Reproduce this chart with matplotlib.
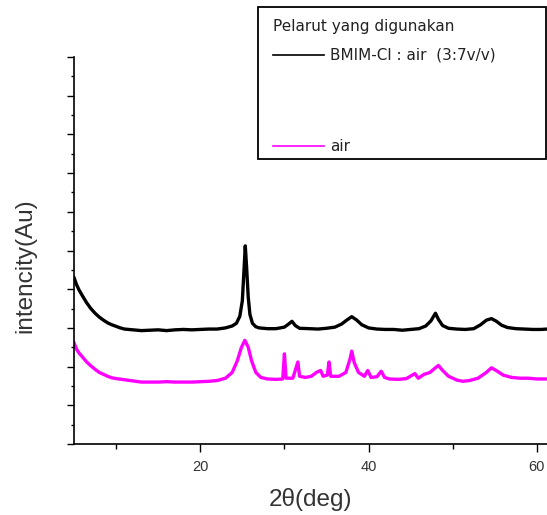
import matplotlib
matplotlib.use("Agg")
import matplotlib.pyplot as plt
from matplotlib.lines import Line2D
from matplotlib.patches import Rectangle
from matplotlib.ticker import MultipleLocator

plt.rcParams['font.family'] = ['Liberation Sans', 'DejaVu Sans']

# ---- data ----
bmim_x = [5.0, 5.3, 5.6, 6.0, 6.5, 7.0, 7.5, 8.0, 8.5, 9.0, 9.5, 10.0, 10.5, 11.0, 12.0, 13.0,
          14.0, 15.0, 16.0, 17.0, 18.0, 19.0, 20.0, 21.0, 22.0, 23.0, 23.8, 24.3, 24.7, 25.0,
          25.2, 25.35, 25.5, 25.7, 25.9, 26.2, 26.6, 27.0, 28.0, 29.0, 30.0, 30.5, 30.9, 31.3,
          31.8, 33.0, 34.0, 35.0, 36.0, 36.8, 37.4, 38.0, 38.6, 39.2, 40.0, 41.0, 42.0, 43.0,
          44.0, 45.0, 46.0, 46.8, 47.4, 47.95, 48.3, 48.8, 49.5, 50.5, 51.5, 52.5, 53.3, 54.0,
          54.6, 55.2, 55.8, 56.5, 57.5, 58.5, 59.5, 60.5, 61.2]
bmim_y = [4.3, 4.12, 3.98, 3.83, 3.65, 3.5, 3.38, 3.28, 3.2, 3.13, 3.08, 3.04, 3.0, 2.97, 2.95, 2.93,
          2.94, 2.95, 2.93, 2.95, 2.96, 2.95, 2.96, 2.97, 2.97, 3.0, 3.05, 3.12, 3.3, 3.7,
          4.5, 5.12, 4.6, 3.8, 3.35, 3.12, 3.03, 3.0, 2.98, 2.98, 3.02, 3.1, 3.17, 3.06,
          2.99, 2.98, 2.97, 2.99, 3.02, 3.1, 3.2, 3.29, 3.2, 3.08, 3.0, 2.97, 2.96, 2.96,
          2.94, 2.96, 2.98, 3.05, 3.18, 3.38, 3.22, 3.06, 2.99, 2.97, 2.96, 2.98, 3.08, 3.2,
          3.24, 3.17, 3.07, 3.01, 2.98, 2.97, 2.96, 2.96, 2.97]

air_x = [5.0, 5.3, 5.6, 6.0, 6.5, 7.0, 7.5, 8.0, 8.5, 9.0, 9.5, 10.0, 11.0, 12.0, 13.0, 14.0,
         15.0, 16.0, 17.0, 18.0, 19.0, 20.0, 21.0, 22.0, 23.0, 23.8, 24.4, 24.9, 25.3, 25.7,
         26.1, 26.6, 27.2, 28.0, 29.0, 29.8, 30.0, 30.2, 31.0, 31.6, 31.8, 32.5, 33.2, 33.8,
         34.3, 34.6, 35.1, 35.3, 35.5, 36.5, 37.3, 37.8, 38.0, 38.3, 38.8, 39.5, 39.9, 40.3,
         41.0, 41.5, 41.9, 42.5, 43.5, 44.5, 45.5, 45.9, 46.6, 47.3, 48.0, 48.3, 48.8, 49.5,
         50.5, 51.2, 52.0, 53.0, 54.0, 54.6, 55.3, 56.0, 57.0, 58.0, 59.0, 60.0, 61.2]
air_y = [2.62, 2.45, 2.35, 2.25, 2.12, 2.02, 1.93, 1.85, 1.8, 1.75, 1.71, 1.69, 1.66, 1.63, 1.6, 1.6,
         1.6, 1.61, 1.6, 1.6, 1.6, 1.61, 1.62, 1.64, 1.7, 1.85, 2.15, 2.5, 2.68, 2.5,
         2.15, 1.85, 1.72, 1.68, 1.67, 1.68, 2.33, 1.7, 1.7, 2.12, 1.75, 1.72, 1.75, 1.85,
         1.9, 1.75, 1.78, 2.12, 1.75, 1.75, 1.85, 2.2, 2.4, 2.1, 1.85, 1.75, 1.9, 1.72,
         1.74, 1.88, 1.72, 1.68, 1.67, 1.69, 1.82, 1.7, 1.8, 1.85, 1.98, 2.03, 1.9, 1.75,
         1.65, 1.62, 1.64, 1.7, 1.85, 1.97, 1.88, 1.78, 1.72, 1.7, 1.7, 1.68, 1.68]

x_ticks = [20, 40, 60]
legend_title = "Pelarut yang digunakan"
label_bmim = "BMIM-Cl : air  (3:7v/v)"
label_air = "air"

# ---- figure ----
W, H = 547, 515
fig = plt.figure(figsize=(W / 100, H / 100), dpi=100)
ax = fig.add_axes([74 / W, 71 / H, 473 / W, 387 / H])

ax.plot(bmim_x, bmim_y, color='black', lw=2.4)
ax.plot(air_x, air_y, color='#ff00ff', lw=2.4)

ax.set_xlim(5, 61.2)
ax.set_ylim(0, 10)
ax.spines['top'].set_visible(False)
ax.spines['right'].set_visible(False)
for s in ('left', 'bottom'):
    ax.spines[s].set_linewidth(1.2)
ax.set_xticks(x_ticks)
ax.xaxis.set_minor_locator(MultipleLocator(10))
ax.yaxis.set_major_locator(MultipleLocator(1))
ax.yaxis.set_minor_locator(MultipleLocator(0.5))
ax.tick_params(axis='y', which='major', direction='out', length=5, width=1, labelleft=False)
ax.tick_params(axis='y', which='minor', direction='out', length=2.5, width=1)
ax.tick_params(axis='x', which='major', direction='out', length=5.5, width=1,
               labelsize=10.5, labelcolor='#333333', pad=6)
ax.tick_params(axis='x', which='minor', direction='out', length=3.5, width=1)

ax.set_ylabel("intencity(Au)", fontsize=17.5, color='#333333')
ax.yaxis.set_label_coords(-0.08, 0.46)
ax.set_xlabel("2θ(deg)", fontsize=17.5, color='#333333', labelpad=10)

# legend box
fig.patches.append(Rectangle((258 / W, 1 - 159 / H), (546 - 258) / W, (159 - 7) / H,
                             transform=fig.transFigure, fill=False, ec='black', lw=1.3))
fig.text(273 / W, 1 - 27 / H, legend_title, fontsize=11, family='DejaVu Sans',
         color='#222222', ha='left', va='center')
handles = [Line2D([], [], color='black', lw=1.2),
           Line2D([], [], color='#ff00ff', lw=1.2)]
leg = fig.legend(handles, [label_bmim, label_air],
                 loc='upper left', bbox_to_anchor=(273 / W, 1 - 48 / H),
                 frameon=False, prop={'family': 'DejaVu Sans', 'size': 11},
                 handlelength=3.33, handletextpad=0.4, labelspacing=5.0,
                 borderpad=0, borderaxespad=0)
for t in leg.get_texts():
    t.set_color('#222222')

fig.savefig("out.png", dpi=100)
